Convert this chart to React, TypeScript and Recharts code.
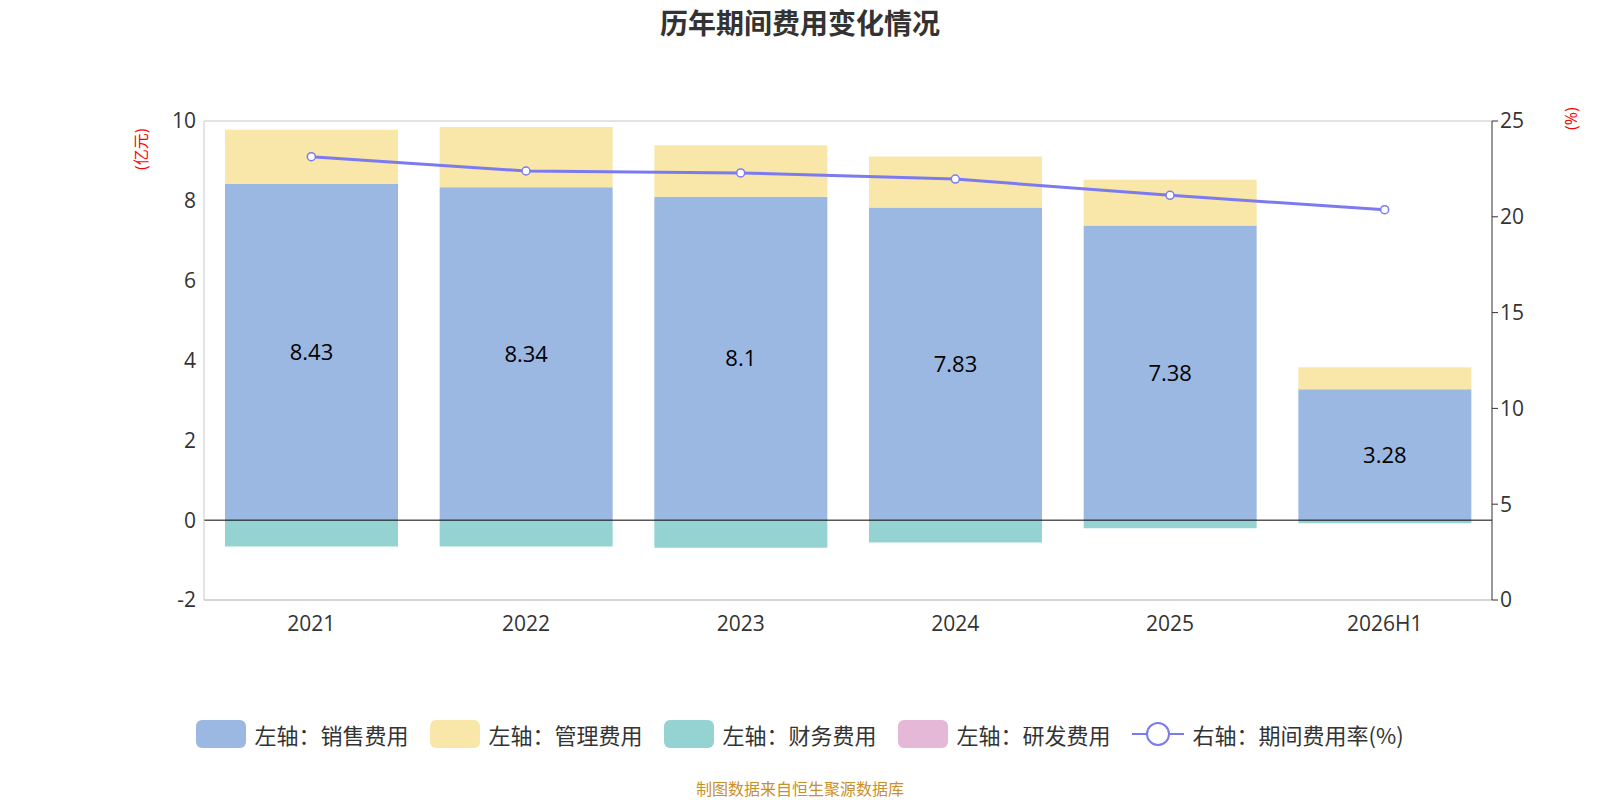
import React from "react";
import { ComposedChart, Bar, Line, XAxis, YAxis, CartesianGrid, ReferenceLine, LabelList } from "recharts";

const years = ["2021", "2022", "2023", "2024", "2025", "2026H1"];
const sales = [8.43, 8.34, 8.1, 7.83, 7.38, 3.28];
const mgmt = [1.35, 1.51, 1.29, 1.28, 1.15, 0.55];
const fin = [-0.66, -0.66, -0.69, -0.56, -0.2, -0.08];
const rnd = [0, 0, 0, 0, 0, 0];
const rate = [23.14, 22.39, 22.29, 21.97, 21.12, 20.37];
const leftTicks = [-2, 0, 2, 4, 6, 8, 10];
const rightTicks = [0, 5, 10, 15, 20, 25];

const data = years.map((y, i) => ({ year: y, sales: sales[i], mgmt: mgmt[i], fin: fin[i], rnd: rnd[i], rate: rate[i] }));

const C = { sales: "#9bb8e2", mgmt: "#f8e7a9", fin: "#95d3d3", rnd: "#e6b8d8", line: "#7b7bef" };
const font = "'Open Sans', 'Noto Sans CJK SC', sans-serif";

const legendItems = [
  { c: C.sales, t: "左轴：销售费用" },
  { c: C.mgmt, t: "左轴：管理费用" },
  { c: C.fin, t: "左轴：财务费用" },
  { c: C.rnd, t: "左轴：研发费用" },
];

export default function App() {
  const tick = { fill: "#333", fontSize: 21, fontFamily: font };
  return (
    <div style={{ position: "absolute", left: 0, top: 0, width: 1600, height: 800, background: "#fff", fontFamily: font }}>
      <div style={{ position: "absolute", top: 2, width: 1600, textAlign: "center", fontSize: 28, fontWeight: 700, color: "#333" }}>历年期间费用变化情况</div>
      <div style={{ position: "absolute", left: 128, top: 170, color: "red", fontSize: 16, transform: "rotate(-90deg)", transformOrigin: "left top", whiteSpace: "nowrap" }}>(亿元)</div>
      <div style={{ position: "absolute", left: 1560, top: 130, color: "red", fontSize: 16, transform: "rotate(-90deg)", transformOrigin: "left top", whiteSpace: "nowrap" }}>(%)</div>
      <ComposedChart width={1600} height={800} data={data} stackOffset="sign" barCategoryGap={21}
        margin={{ top: 121, right: 48, bottom: 160, left: 144 }}>
        <CartesianGrid vertical={false} stroke="#c8c8c8" />
        <XAxis dataKey="year" tick={tick} tickLine={false} axisLine={{ stroke: "#c8c8c8" }} height={40} tickMargin={10} />
        <YAxis yAxisId="l" domain={[-2, 10]} ticks={leftTicks} tick={tick} axisLine={{ stroke: "#c8c8c8" }} tickLine={false} width={60} />
        <YAxis yAxisId="r" orientation="right" domain={[0, 25]} ticks={rightTicks} tick={tick} axisLine={{ stroke: "#333" }} tickLine={{ stroke: "#333" }} width={60} />
        <ReferenceLine yAxisId="l" y={0} stroke="#000" />
        <Bar yAxisId="l" dataKey="sales" stackId="a" fill={C.sales} isAnimationActive={false}>
          <LabelList dataKey="sales" position="center" fill="#000" fontSize={22} fontFamily={font} />
        </Bar>
        <Bar yAxisId="l" dataKey="mgmt" stackId="a" fill={C.mgmt} isAnimationActive={false} />
        <Bar yAxisId="l" dataKey="fin" stackId="a" fill={C.fin} isAnimationActive={false} />
        <Bar yAxisId="l" dataKey="rnd" stackId="a" fill={C.rnd} isAnimationActive={false} />
        <Line yAxisId="r" dataKey="rate" stroke={C.line} strokeWidth={3} dot={{ r: 4, fill: "#fff", stroke: C.line, strokeWidth: 1.5 }} isAnimationActive={false} />
      </ComposedChart>
      <div style={{ position: "absolute", top: 718, width: 1600, display: "flex", justifyContent: "center", gap: 22, fontSize: 22, color: "#333", alignItems: "center", fontFamily: "'Noto Sans CJK SC', sans-serif" }}>
        {legendItems.map((l) => (
          <div key={l.t} style={{ display: "flex", alignItems: "center", gap: 8 }}>
            <div style={{ width: 50, height: 28, borderRadius: 6, background: l.c }} />
            <span>{l.t}</span>
          </div>
        ))}
        <div style={{ display: "flex", alignItems: "center", gap: 8 }}>
          <svg width={52} height={28}><line x1={0} y1={14} x2={52} y2={14} stroke={C.line} strokeWidth={2} /><circle cx={26} cy={14} r={11} fill="#fff" stroke={C.line} strokeWidth={2} /></svg>
          <span>右轴：期间费用率(%)</span>
        </div>
      </div>
      <div style={{ position: "absolute", top: 776, width: 1600, textAlign: "center", fontSize: 16, color: "#c8902a", fontFamily: "'Noto Sans CJK SC', sans-serif" }}>制图数据来自恒生聚源数据库</div>
    </div>
  );
}
